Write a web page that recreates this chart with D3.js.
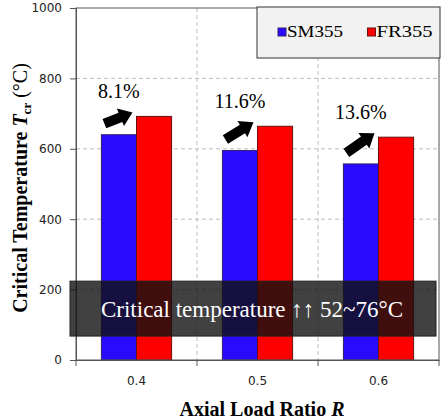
<!DOCTYPE html>
<html>
<head>
<meta charset="utf-8">
<script src="https://cdn.jsdelivr.net/npm/d3@7"></script>
<style>
  body { margin: 0; background: #fff; }
  svg { display: block; }
  .serif { font-family: "Liberation Serif", "Times New Roman", serif; }
</style>
</head>
<body>
<svg id="chart" width="443" height="420"></svg>
<script>
// data
const ratios = ["0.4", "0.5", "0.6"];
const seriesNames = ["SM355", "FR355"];
const sm355 = [640, 595, 557];
const fr355 = [692, 664, 633];
const increase = ["8.1%", "11.6%", "13.6%"];
const yTicks = [0, 200, 400, 600, 800, 1000];
const bandRange = [68, 224];   // dark banner extent in °C

const colors = { SM355: "#2a0aff", FR355: "#ff0000" };
const strokes = { SM355: "#30206a", FR355: "#6a1010" };

const svg = d3.select("#chart");
const plotL = 76, plotR = 439, plotT = 8, plotB = 360;

let x0 = d3.scaleBand().domain(ratios).range([plotL, plotR]).padding(0);
let x1 = d3.scaleBand().domain(seriesNames)
    .range([x0.bandwidth() * 0.21, x0.bandwidth() * 0.79]).padding(0);
let y = d3.scaleLinear().domain([0, 1000]).range([plotB, plotT]);

// gridlines
let grid = svg.append("g");
grid.selectAll(".hg").data(yTicks.filter(d => d > 0 && d < 1000))
    .enter().append("line")
    .attr("x1", plotL).attr("x2", plotR)
    .attr("y1", d => y(d)).attr("y2", d => y(d))
    .attr("stroke", "#bdbdbd").attr("stroke-dasharray", "4,3");
grid.selectAll(".vg").data(ratios.slice(1))
    .enter().append("line")
    .attr("x1", d => x0(d)).attr("x2", d => x0(d))
    .attr("y1", plotT).attr("y2", plotB)
    .attr("stroke", "#bdbdbd").attr("stroke-dasharray", "4,3");

// bars
let rows = ratios.map((r, i) => ({ r: r, SM355: sm355[i], FR355: fr355[i], pct: increase[i] }));
let groups = svg.selectAll(".grp").data(rows).enter().append("g")
    .attr("transform", d => "translate(" + x0(d.r) + ",0)");
groups.selectAll("rect")
    .data(d => seriesNames.map(k => ({ key: k, value: d[k] })))
    .enter().append("rect")
    .attr("x", d => x1(d.key))
    .attr("width", x1.bandwidth())
    .attr("y", d => y(d.value))
    .attr("height", d => y(0) - y(d.value))
    .attr("fill", d => colors[d.key])
    .attr("stroke", d => strokes[d.key])
    .attr("stroke-width", 1);

// frame + axes
svg.append("rect").attr("x", plotL).attr("y", plotT)
    .attr("width", plotR - plotL).attr("height", plotB - plotT)
    .attr("fill", "none").attr("stroke", "#555").attr("stroke-width", 1);

let yAxis = svg.append("g").attr("transform", "translate(" + plotL + ",0)")
    .call(d3.axisLeft(y).tickValues(yTicks).tickFormat(d3.format("d")).tickSize(6).tickPadding(8));
yAxis.select(".domain").attr("stroke", "#555");
yAxis.selectAll(".tick line").attr("stroke", "#555");
yAxis.selectAll("text").attr("font-family", "DejaVu Sans").attr("font-size", 12).attr("fill", "#222");

let xAxis = svg.append("g").attr("transform", "translate(0," + plotB + ")")
    .call(d3.axisBottom(x0).tickSize(0).tickPadding(16));
xAxis.select(".domain").attr("stroke", "#555");
xAxis.selectAll("text").attr("font-family", "DejaVu Sans").attr("font-size", 12).attr("fill", "#222");
// boundary ticks between categories
xAxis.selectAll(".bt").data(ratios.concat(["end"]))
    .enter().append("line")
    .attr("x1", d => d === "end" ? plotR : x0(d))
    .attr("x2", d => d === "end" ? plotR : x0(d))
    .attr("y1", 0).attr("y2", 6).attr("stroke", "#555");

// arrows from SM355 top to FR355 top
groups.append("path")
    .attr("fill", "#000")
    .attr("d", function (d) {
        let tx = x1("SM355") + 3, ty = y(d.SM355) - 11;
        let hx = x1("FR355") - 4, hy = y(d.FR355) - 4;
        let dx = hx - tx, dy = hy - ty, len = Math.hypot(dx, dy);
        let ux = dx / len, uy = dy / len, nx = -uy, ny = ux;
        let sw = 5, hw = 9.5, hl = 13;
        let p = (a, b) => [tx + ux * a + nx * b, ty + uy * a + ny * b];
        let pts = [p(0, sw), p(len - hl, sw), p(len - hl, hw), p(len, 0),
                   p(len - hl, -hw), p(len - hl, -sw), p(0, -sw)];
        return "M" + pts.map(q => q.join(",")).join("L") + "Z";
    });

// percent labels
groups.append("text")
    .attr("class", "serif")
    .attr("x", x1("SM355") + x1.bandwidth() / 2)
    .attr("y", d => y(d.FR355) - 18)
    .attr("text-anchor", "middle")
    .attr("font-size", 20)
    .text(d => d.pct);

// dark banner
svg.append("rect")
    .attr("x", plotL - 6).attr("width", plotR - plotL + 3)
    .attr("y", y(bandRange[1])).attr("height", y(bandRange[0]) - y(bandRange[1]))
    .attr("fill", "#111").attr("fill-opacity", 0.8)
    .attr("stroke", "#222");
svg.append("text")
    .attr("class", "serif")
    .attr("x", 252).attr("y", (y(bandRange[0]) + y(bandRange[1])) / 2 + 8)
    .attr("text-anchor", "middle")
    .attr("font-size", 23)
    .attr("fill", "#fff")
    .text("Critical temperature \u2191\u2191 52~76\u00B0C");

// legend
let legend = svg.append("g").attr("transform", "translate(257,7)");
legend.append("rect").attr("width", 183).attr("height", 51)
    .attr("fill", "#f2f2f2").attr("stroke", "#333");
let li = legend.selectAll(".li").data(seriesNames).enter().append("g")
    .attr("transform", (d, i) => "translate(" + (21 + i * 89.5) + ",21)");
li.append("rect").attr("width", 8).attr("height", 8)
    .attr("fill", d => colors[d]).attr("stroke", d => strokes[d]);
li.append("text").attr("class", "serif").attr("x", 9).attr("y", 8.5)
    .attr("font-size", 17)
    .attr("textLength", 56).attr("lengthAdjust", "spacingAndGlyphs")
    .text(d => d);

// axis titles
let yt = svg.append("text")
    .attr("class", "serif")
    .attr("transform", "translate(27,188) rotate(-90)")
    .attr("text-anchor", "middle")
    .attr("font-size", 20)
    .attr("font-weight", "bold");
yt.append("tspan").text("Critical Temperature ");
yt.append("tspan").attr("font-style", "italic").text("T");
yt.append("tspan").attr("font-size", 13).attr("dy", 4).text("cr");
yt.append("tspan").attr("dy", -4).attr("font-weight", "normal").text(" (\u00B0C)");

let xt = svg.append("text")
    .attr("class", "serif")
    .attr("x", 262).attr("y", 416)
    .attr("text-anchor", "middle")
    .attr("font-size", 20)
    .attr("font-weight", "bold");
xt.append("tspan").text("Axial Load Ratio ");
xt.append("tspan").attr("font-style", "italic").text("R");
</script>
</body>
</html>
